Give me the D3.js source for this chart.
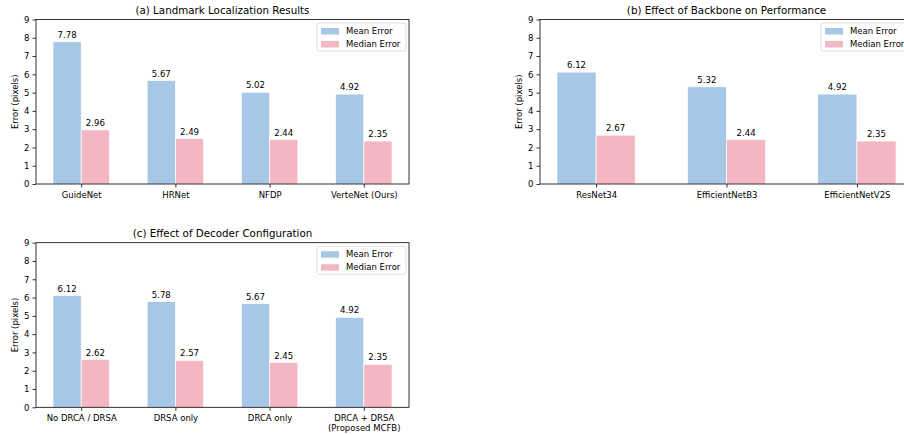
<!DOCTYPE html>
<html>
<head>
<meta charset="utf-8">
<script src="https://cdn.jsdelivr.net/npm/d3@7"></script>
<style>
  body { margin: 0; background: #fff; overflow: hidden; }
  svg { display: block; font-family: "DejaVu Sans", sans-serif; }
</style>
</head>
<body>
<svg id="chart"></svg>
<script>
const seriesNames = ["Mean Error", "Median Error"];
const colors = ["#a7c7e7", "#f4b6c2"];
const yTicks = [0, 1, 2, 3, 4, 5, 6, 7, 8, 9];

const titleA = "(a) Landmark Localization Results";
const catsA = ["GuideNet", "HRNet", "NFDP", "VerteNet (Ours)"];
const meanA = [7.78, 5.67, 5.02, 4.92];
const medianA = [2.96, 2.49, 2.44, 2.35];

const titleB = "(b) Effect of Backbone on Performance";
const catsB = ["ResNet34", "EfficientNetB3", "EfficientNetV2S"];
const meanB = [6.12, 5.32, 4.92];
const medianB = [2.67, 2.44, 2.35];

const titleC = "(c) Effect of Decoder Configuration";
const catsC = ["No DRCA / DRSA", "DRSA only", "DRCA only", "DRCA + DRSA\n(Proposed MCFB)"];
const meanC = [6.12, 5.78, 5.67, 4.92];
const medianC = [2.62, 2.57, 2.45, 2.35];

const svg = d3.select("#chart").attr("width", 904).attr("height", 435);

function drawPanel(box, title, cats, mean, median) {
  const n = cats.length;
  const barW = 0.3;
  const span = (n - 1) + 2 * barW;
  const xScale = d3.scaleLinear()
    .domain([-barW - 0.05 * span, n - 1 + barW + 0.05 * span])
    .range([box.left, box.right]);
  const yScale = d3.scaleLinear().domain([0, 9]).range([box.bottom, box.top]);

  const g = svg.append("g");

  const rows = [];
  cats.forEach((c, i) => {
    rows.push({ i, s: 0, v: mean[i] });
    rows.push({ i, s: 1, v: median[i] });
  });

  g.selectAll("rect.bar")
    .data(rows)
    .enter()
    .append("rect")
    .attr("class", "bar")
    .attr("x", d => xScale(d.i - barW + d.s * barW))
    .attr("width", d => xScale(barW) - xScale(0))
    .attr("y", d => yScale(d.v))
    .attr("height", d => yScale(0) - yScale(d.v))
    .attr("fill", d => colors[d.s])
    .attr("stroke", "#fff")
    .attr("stroke-width", 0.7);

  g.selectAll("text.val")
    .data(rows)
    .enter()
    .append("text")
    .attr("class", "val")
    .attr("x", d => xScale(d.i - barW / 2 + d.s * barW))
    .attr("y", d => yScale(d.v + 0.1) - 2)
    .attr("text-anchor", "middle")
    .attr("font-size", 8.6)
    .attr("fill", "#000")
    .text(d => d.v.toFixed(2));

  // y axis
  const yAxis = d3.axisLeft(yScale).tickValues(yTicks).tickSize(3.5).tickPadding(3);
  const ya = g.append("g")
    .attr("transform", `translate(${box.left},0)`)
    .call(yAxis);
  ya.select(".domain").remove();
  ya.selectAll("text").attr("font-size", 8.5).attr("fill", "#000").attr("font-family", "DejaVu Sans");
  ya.selectAll("line").attr("stroke", "#000").attr("stroke-width", 0.8);

  // x axis
  const xAxis = d3.axisBottom(xScale).tickValues(d3.range(n)).tickSize(3.5).tickPadding(3).tickFormat("");
  const xa = g.append("g")
    .attr("transform", `translate(0,${box.bottom})`)
    .call(xAxis);
  xa.select(".domain").remove();
  xa.selectAll("line").attr("stroke", "#000").attr("stroke-width", 0.8);
  xa.selectAll(".tick").each(function(d) {
    const lines = cats[d].split("\n");
    const t = d3.select(this).append("text")
      .attr("text-anchor", "middle")
      .attr("font-size", 8.5)
      .attr("font-family", "DejaVu Sans")
      .attr("fill", "#000");
    lines.forEach((l, k) => {
      t.append("tspan").attr("x", 0).attr("y", 13.5 + k * 9.8).text(l);
    });
  });

  // spines
  g.append("rect")
    .attr("x", box.left).attr("y", box.top)
    .attr("width", box.right - box.left).attr("height", box.bottom - box.top)
    .attr("fill", "none").attr("stroke", "#000").attr("stroke-width", 0.8);

  // title
  g.append("text")
    .attr("x", (box.left + box.right) / 2)
    .attr("y", box.top - 5.5)
    .attr("text-anchor", "middle")
    .attr("font-size", 10.3)
    .attr("fill", "#000")
    .text(title);

  // y label
  g.append("text")
    .attr("transform", `translate(${box.left - 18},${(box.top + box.bottom) / 2}) rotate(-90)`)
    .attr("text-anchor", "middle")
    .attr("font-size", 8.5)
    .attr("fill", "#000")
    .text("Error (pixels)");

  // legend
  const lw = 89, lh = 28;
  const lx = box.right - 3 - lw, ly = box.top + 3.5;
  const leg = g.append("g").attr("transform", `translate(${lx},${ly})`);
  leg.append("rect")
    .attr("width", lw).attr("height", lh).attr("rx", 2)
    .attr("fill", "#fff").attr("fill-opacity", 0.8)
    .attr("stroke", "#d6d6d6").attr("stroke-width", 0.8);
  seriesNames.forEach((s, k) => {
    leg.append("rect")
      .attr("x", 4).attr("y", 5 + k * 13)
      .attr("width", 18).attr("height", 6.5)
      .attr("fill", colors[k]);
    leg.append("text")
      .attr("x", 29).attr("y", 11.2 + k * 13)
      .attr("font-size", 8.5)
      .attr("fill", "#000")
      .text(s);
  });
}

drawPanel({ left: 36, right: 409, top: 19.5, bottom: 184 }, titleA, catsA, meanA, medianA);
drawPanel({ left: 540, right: 913, top: 19.5, bottom: 184 }, titleB, catsB, meanB, medianB);
drawPanel({ left: 36, right: 409, top: 242.7, bottom: 407.3 }, titleC, catsC, meanC, medianC);
</script>
</body>
</html>
